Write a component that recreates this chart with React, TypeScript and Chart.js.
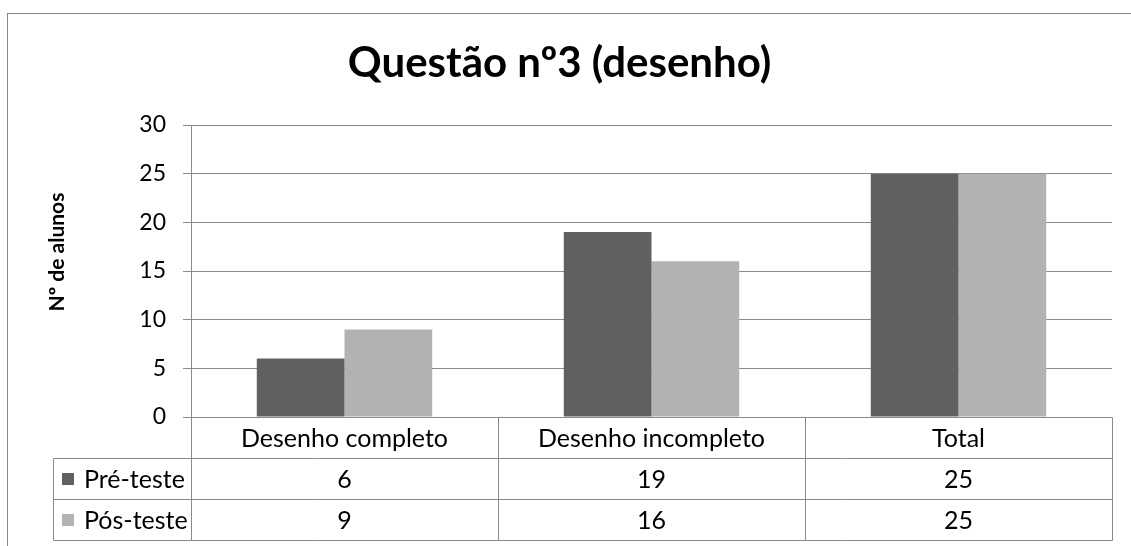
import React, { useEffect, useRef } from "react";
import { Chart, registerables } from "chart.js";

Chart.register(...registerables);

const title = "Questão nº3 (desenho)";
const yAxisTitle = "Nº de alunos";
const categories = ["Desenho completo", "Desenho incompleto", "Total"];
const seriesNames = ["Pré-teste", "Pós-teste"];
const preTeste = [6, 19, 25];
const posTeste = [9, 16, 25];
const seriesColors = ["#606060", "#b2b2b2"];
const yMin = 0;
const yMax = 30;
const yStep = 5;

const FONT = "Lato, 'Open Sans', sans-serif";
const LINE = "#8a8a8a";

const tablePlugin = {
  id: "excelDecor",
  afterDraw(chart: any) {
    const ctx = chart.ctx as CanvasRenderingContext2D;
    const { left, right, bottom } = chart.chartArea;
    const n = categories.length;
    const colW = (right - left) / n;
    const rowH = 41;
    const tableLeft = 53;
    const seriesValues = [preTeste, posTeste];
    ctx.save();

    // outer chart border
    ctx.strokeStyle = "#888888";
    ctx.lineWidth = 1;
    ctx.strokeRect(7.5, 13.5, 1200, 600);

    // title
    ctx.fillStyle = "#000";
    ctx.font = `bold 42px ${FONT}`;
    ctx.textAlign = "center";
    ctx.textBaseline = "alphabetic";
    ctx.fillText(title, 559.5, 77);

    // y axis title
    ctx.save();
    ctx.translate(57, 252);
    ctx.rotate(-Math.PI / 2);
    ctx.font = `bold 21px ${FONT}`;
    ctx.textAlign = "center";
    ctx.textBaseline = "middle";
    ctx.fillText(yAxisTitle, 0, 0);
    ctx.restore();

    // table lines
    ctx.strokeStyle = LINE;
    ctx.lineWidth = 1;
    const px = (v: number) => Math.round(v) + 0.5;
    const yTop = bottom;
    const yEnd = bottom + rowH * (1 + seriesValues.length);
    ctx.beginPath();
    ctx.moveTo(px(left), px(yTop));
    ctx.lineTo(px(right), px(yTop));
    for (let r = 1; r <= seriesValues.length + 1; r++) {
      const y = px(yTop + rowH * r);
      ctx.moveTo(px(tableLeft), y);
      ctx.lineTo(px(right), y);
    }
    ctx.moveTo(px(tableLeft), px(yTop + rowH));
    ctx.lineTo(px(tableLeft), px(yEnd));
    for (let c = 0; c <= n; c++) {
      const x = px(left + colW * c);
      ctx.moveTo(x, px(yTop));
      ctx.lineTo(x, px(yEnd));
    }
    ctx.stroke();

    // category labels and values
    ctx.fillStyle = "#000";
    ctx.font = `25px ${FONT}`;
    ctx.textAlign = "center";
    ctx.textBaseline = "middle";
    const xs = chart.scales.x;
    for (let c = 0; c < n; c++) {
      const cx = xs.getPixelForValue(c);
      ctx.fillText(categories[c], cx, yTop + rowH / 2 + 1);
      for (let s = 0; s < seriesValues.length; s++) {
        ctx.fillText(String(seriesValues[s][c]), cx, yTop + rowH * (s + 1) + rowH / 2 + 1);
      }
    }

    // legend keys
    for (let s = 0; s < seriesNames.length; s++) {
      const cy = yTop + rowH * (s + 1) + rowH / 2;
      ctx.fillStyle = seriesColors[s];
      ctx.fillRect(62, Math.round(cy - 6), 12, 12);
      ctx.fillStyle = "#000";
      ctx.textAlign = "left";
      ctx.fillText(seriesNames[s], 84, cy + 1);
    }
    ctx.restore();
  },
};

export default function App() {
  const ref = useRef<HTMLCanvasElement | null>(null);
  useEffect(() => {
    if (!ref.current) return;
    const chart = new Chart(ref.current, {
      type: "bar",
      data: {
        labels: categories,
        datasets: [
          { label: seriesNames[0], data: preTeste, backgroundColor: seriesColors[0], barPercentage: 1, categoryPercentage: 2 / 3.5 },
          { label: seriesNames[1], data: posTeste, backgroundColor: seriesColors[1], barPercentage: 1, categoryPercentage: 2 / 3.5 },
        ],
      },
      options: {
        responsive: false,
        animation: false,
        events: [],
        layout: { padding: { left: 0, top: 125, right: 19, bottom: 129 } },
        plugins: { legend: { display: false }, tooltip: { enabled: false }, title: { display: false } },
        scales: {
          x: { display: false },
          y: {
            min: yMin,
            max: yMax,
            ticks: { stepSize: yStep, color: "#000", font: { family: FONT, size: 23 }, padding: 17 },
            grid: { color: LINE, tickLength: 8, lineWidth: 1 },
            border: { display: true, color: LINE },
            afterFit: (scale: any) => {
              scale.width = 191;
            },
          },
        },
      },
      plugins: [tablePlugin],
    });
    return () => chart.destroy();
  }, []);
  return (
    <div style={{ position: "fixed", left: 0, top: 0, width: 1131, height: 546, background: "#fff" }}>
      <canvas ref={ref} width={1131} height={546} style={{ display: "block" }} />
    </div>
  );
}
